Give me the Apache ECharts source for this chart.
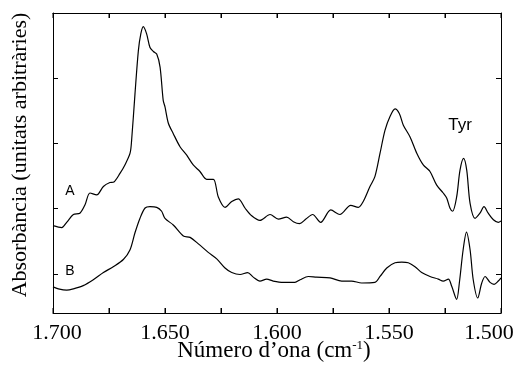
<!DOCTYPE html>
<html>
<head>
<meta charset="utf-8">
<script src="https://cdn.jsdelivr.net/npm/echarts@6/dist/echarts.min.js"></script>
<style>
  html, body { margin: 0; padding: 0; background: #fff; }
  #chart { width: 518px; height: 367px; }
</style>
</head>
<body>
<div id="chart"></div>
<script>
// espectre A (numero d'ona, absorbancia)
var waveA = [1700, 1696.1, 1693.9, 1690.9, 1688.0, 1685.7, 1683.5, 1680.5, 1677.5, 1674.6,
  1672.8, 1670.1, 1667.9, 1665.6, 1664.9, 1663.4, 1661.9, 1660.8, 1659.7, 1658.2,
  1656.7, 1655.2, 1653.7, 1652.2, 1650.8, 1650.0, 1648.5, 1646.3, 1643.3, 1640.3,
  1637.4, 1634.4, 1631.4, 1628.4, 1626.2, 1623.2, 1620.2, 1617.3, 1614.3, 1611.3,
  1607.6, 1603.1, 1599.4, 1595.7, 1592.7, 1590.0, 1587.1, 1584.1, 1580.5, 1576.0,
  1571.9, 1567.1, 1563.7, 1561.5, 1558.5, 1556.3, 1554.0, 1551.8, 1549.6, 1547.3,
  1545.4, 1543.6, 1540.6, 1537.6, 1534.7, 1531.7, 1528.7, 1525.8, 1524.2, 1522.8,
  1521.6, 1519.8, 1518.3, 1516.7, 1515.3, 1513.8, 1511.6, 1509.4, 1507.6, 1505.7,
  1503.4, 1501.2, 1500];
var absA = [1.34, 1.31, 1.39, 1.51, 1.53, 1.66, 1.84, 1.81, 1.94, 2.00,
  2.01, 2.14, 2.27, 2.45, 2.65, 3.36, 4.02, 4.28, 4.39, 4.28,
  4.07, 4.01, 3.97, 3.77, 3.26, 3.16, 2.91, 2.75, 2.55, 2.42,
  2.27, 2.17, 2.05, 2.05, 1.78, 1.62, 1.71, 1.75, 1.61, 1.49,
  1.42, 1.51, 1.44, 1.47, 1.40, 1.37, 1.44, 1.51, 1.39, 1.58,
  1.51, 1.65, 1.62, 1.71, 1.94, 2.09, 2.45, 2.80, 3.01, 3.13,
  3.06, 2.88, 2.70, 2.45, 2.27, 2.17, 1.96, 1.84, 1.76, 1.61,
  1.56, 1.78, 2.19, 2.37, 2.19, 1.68, 1.45, 1.53, 1.63, 1.53,
  1.43, 1.39, 1.41];

// espectre B
var waveB = [1700, 1697.6, 1693.9, 1690.9, 1686.5, 1682.0, 1677.5, 1673.1, 1668.6, 1665.6,
  1663.4, 1661.2, 1658.9, 1656.7, 1653.7, 1651.5, 1650.0, 1646.3, 1641.8, 1638.8,
  1635.1, 1630.7, 1626.9, 1623.2, 1620.2, 1616.5, 1613.1, 1610.6, 1607.6, 1604.6,
  1601.7, 1597.2, 1592.0, 1589.7, 1586.0, 1582.3, 1576.3, 1571.1, 1566.7, 1562.2,
  1556.3, 1554.0, 1551.0, 1547.3, 1544.3, 1541.4, 1538.4, 1535.4, 1531.7, 1528.0,
  1525.8, 1523.5, 1522.0, 1519.8, 1518.6, 1516.9, 1515.4, 1513.8, 1512.4, 1510.4,
  1508.6, 1507.1, 1504.9, 1503.1, 1501.2, 1500];
var absB = [0.40, 0.37, 0.35, 0.37, 0.42, 0.51, 0.62, 0.71, 0.82, 0.97,
  1.23, 1.45, 1.61, 1.63, 1.62, 1.56, 1.45, 1.35, 1.18, 1.16,
  1.06, 0.93, 0.83, 0.69, 0.62, 0.59, 0.62, 0.55, 0.49, 0.52,
  0.49, 0.47, 0.47, 0.51, 0.56, 0.55, 0.54, 0.49, 0.49, 0.46,
  0.47, 0.56, 0.69, 0.77, 0.78, 0.77, 0.71, 0.62, 0.56, 0.52,
  0.49, 0.52, 0.41, 0.21, 0.46, 0.97, 1.24, 0.97, 0.51, 0.23,
  0.46, 0.56, 0.47, 0.44, 0.49, 0.54];

var xTickLabels = [1700, 1650, 1600, 1550, 1500];
var xTicks = [1700, 1675, 1650, 1625, 1600, 1575, 1550, 1525, 1500];
var yTicks = [0.6, 1.6, 2.6, 3.6];
var yTicksRight = [4.0, 3.0, 2.0, 1.0];
var yMin = 0, yMax = 4.6;

// etiquetes: [text, numero d'ona, valor]
var notes = [['A', 1692.4, 1.87], ['B', 1692.4, 0.64], ['Tyr', 1518.3, 2.88]];

function zip(xs, ys) {
  return xs.map(function (x, i) { return [x, ys[i]]; });
}

function fmt(v) {
  var s = String(v);
  return s.length > 3 ? s.slice(0, s.length - 3) + '.' + s.slice(-3) : s;
}

var chart = echarts.init(document.getElementById('chart'), null, { renderer: 'canvas' });

var serifFont = '"Liberation Serif", "DejaVu Serif", serif';

var xBase = {
  type: 'value',
  min: 1500,
  max: 1700,
  interval: 25,
  inverse: true,
  splitLine: { show: false }
};

var yBase = {
  type: 'value',
  min: yMin,
  max: yMax,
  splitLine: { show: false },
  axisLabel: { show: false },
  axisLine: { show: true, lineStyle: { color: '#000', width: 1 } }
};

// ticks de l'eix x, cap a dins, a baix i a dalt
function renderTick(params, api) {
  var v = api.value(0);
  var b = api.coord([v, yMin]);
  var t = api.coord([v, yMax]);
  return {
    type: 'group',
    children: [
      { type: 'line', shape: { x1: b[0], y1: b[1], x2: b[0], y2: b[1] - 5 }, style: { stroke: '#000', lineWidth: 1 } },
      { type: 'line', shape: { x1: t[0], y1: t[1], x2: t[0], y2: t[1] + 5 }, style: { stroke: '#000', lineWidth: 1 } }
    ]
  };
}

var option = {
  backgroundColor: '#fff',
  animation: false,
  grid: { left: 53, right: 17, top: 13, bottom: 54, outerBoundsMode: 'none' },
  xAxis: [
    Object.assign({}, xBase, {
      position: 'bottom',
      axisLine: { onZero: true, onZeroAxisIndex: 0, lineStyle: { color: '#000', width: 1 } },
      axisTick: { show: true, inside: true, length: 5, lineStyle: { color: '#000', width: 1 } },
      axisLabel: {
        margin: 9,
        fontFamily: serifFont,
        fontSize: 22,
        color: '#000',
        formatter: function (v) {
          if (xTickLabels.indexOf(v) < 0) return '';
          if (v === 1500) return '{r|' + fmt(v) + '}';
          if (v === 1700) return '{l|' + fmt(v) + '}';
          return fmt(v);
        },
        rich: {
          r: { fontFamily: serifFont, fontSize: 22, color: '#000', padding: [0, 24, 0, 0] },
          l: { fontFamily: serifFont, fontSize: 22, color: '#000', padding: [0, 0, 0, 8] }
        }
      }
    }),
    Object.assign({}, xBase, {
      position: 'top',
      axisLine: { onZero: true, onZeroAxisIndex: 1, lineStyle: { color: '#000', width: 1 } },
      axisTick: { show: true, inside: true, length: 5, lineStyle: { color: '#000', width: 1 } },
      axisLabel: { show: false }
    })
  ],
  yAxis: [
    Object.assign({}, yBase, {
      position: 'left',
      axisTick: { inside: true, length: 5, customValues: yTicks, lineStyle: { color: '#000' } },
      name: 'Absorbància (unitats arbitràries)',
      nameLocation: 'middle',
      nameGap: 22,
      nameTextStyle: { fontFamily: serifFont, fontSize: 22, color: '#000', padding: [0, 0, 0, 16] }
    }),
    // eix dret invertit: el seu zero queda a dalt i hi recolza l'eix x superior
    Object.assign({}, yBase, {
      position: 'right',
      inverse: true,
      axisTick: { inside: true, length: 5, customValues: yTicksRight, lineStyle: { color: '#000' } }
    })
  ],
  graphic: [{
    type: 'text',
    x: 274,
    y: 339,
    silent: true,
    style: {
      text: 'Número d’ona (cm{sup|-1})',
      fontFamily: serifFont,
      fontSize: 23,
      lineHeight: 24,
      fill: '#000',
      align: 'center',
      verticalAlign: 'top',
      rich: { sup: { fontFamily: serifFont, fontSize: 13, lineHeight: 14, verticalAlign: 'top', fill: '#000' } }
    }
  }],
  series: [
    {
      name: 'A',
      type: 'line',
      data: zip(waveA, absA),
      smooth: 0.3,
      showSymbol: false,
      lineStyle: { color: '#000', width: 1.2 },
      markPoint: {
        symbol: 'circle',
        symbolSize: 1,
        itemStyle: { color: 'rgba(0,0,0,0)' },
        label: {
          show: true,
          position: 'inside',
          color: '#000',
          fontFamily: 'Liberation Sans, Arial, sans-serif',
          formatter: function (p) { return p.name; }
        },
        data: notes.map(function (n) {
          return {
            name: n[0],
            coord: [n[1], n[2]],
            label: { fontSize: n[0] === 'Tyr' ? 17 : 14 }
          };
        })
      }
    },
    {
      name: 'B',
      type: 'line',
      data: zip(waveB, absB),
      smooth: 0.3,
      showSymbol: false,
      lineStyle: { color: '#000', width: 1.2 }
    },
    {
      name: 'ticks',
      type: 'custom',
      silent: true,
      clip: false,
      renderItem: renderTick,
      data: xTicks.map(function (v) { return [v, yMin]; })
    }
  ]
};

chart.setOption(option);
</script>
</body>
</html>
